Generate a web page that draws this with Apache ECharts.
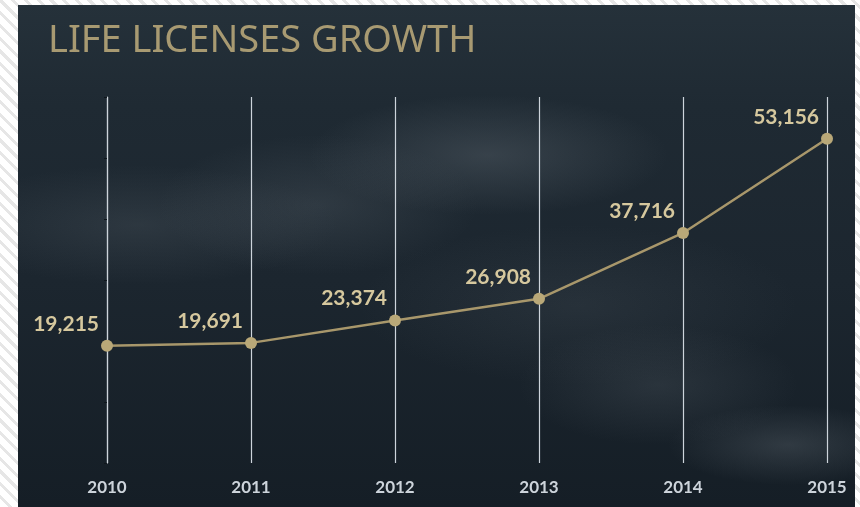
<!DOCTYPE html>
<html>
<head>
<meta charset="utf-8">
<script src="https://cdn.jsdelivr.net/npm/echarts@6/dist/echarts.min.js"></script>
<style>
html,body{margin:0;padding:0;width:860px;height:507px;overflow:hidden;}
body{background:#ffffff repeating-linear-gradient(45deg,#ffffff 0px,#ffffff 6px,#e6e6e6 6px,#e6e6e6 9px);}
#panel{position:absolute;left:18px;top:5px;width:837px;height:502px;
background:
radial-gradient(ellipse 180px 60px at 470px 150px, rgba(120,130,138,0.28), rgba(0,0,0,0)),
radial-gradient(ellipse 160px 70px at 300px 200px, rgba(110,120,128,0.22), rgba(0,0,0,0)),
radial-gradient(ellipse 200px 60px at 120px 220px, rgba(110,120,128,0.20), rgba(0,0,0,0)),
radial-gradient(ellipse 140px 60px at 640px 380px, rgba(110,120,128,0.20), rgba(0,0,0,0)),
radial-gradient(ellipse 120px 40px at 770px 440px, rgba(140,150,158,0.22), rgba(0,0,0,0)),
radial-gradient(ellipse 220px 80px at 560px 300px, rgba(100,110,118,0.16), rgba(0,0,0,0)),
linear-gradient(180deg,#25313a 0%,#1f2a33 20%,#1c262f 55%,#151e26 100%);}
#chart{position:absolute;left:0;top:0;width:860px;height:507px;}
</style>
</head>
<body>
<div id="panel"></div>
<div id="chart"></div>
<script>
var years = ['2010','2011','2012','2013','2014','2015'];
var licenses = [19215, 19691, 23374, 26908, 37716, 53156];
var titleText = 'LIFE LICENSES GROWTH';

var chart = echarts.init(document.getElementById('chart'), null, {renderer:'canvas'});
chart.setOption({
  backgroundColor: 'transparent',
  animation: false,
  title: {
    text: titleText,
    left: 43, top: 17,
    textStyle: {color:'#a89a72', fontFamily:'Noto Sans', fontWeight:'normal', fontSize:38}
  },
  grid: {left:107, right:33, top:97, bottom:44},
  xAxis: {
    type:'category', data: years, boundaryGap:false,
    axisLine:{show:false}, axisTick:{show:false},
    axisLabel:{color:'#cdd4db', fontFamily:'Lato', fontWeight:'bold', fontSize:17, margin:16},
    splitLine:{show:true, showMinLine:true, showMaxLine:true, lineStyle:{color:'#cdd4db', width:1.2}}
  },
  yAxis: {
    type:'value', min:0, max:60000, interval:10000,
    axisLine:{show:true, lineStyle:{color:'#cdd4db', width:1.2}},
    axisTick:{show:true, length:3, lineStyle:{color:'#0e151b'}},
    axisLabel:{show:false},
    splitLine:{show:false}
  },
  series: [{
    type:'line', data: licenses,
    symbol:'circle', symbolSize:12,
    lineStyle:{color:'#a8976b', width:2.5},
    itemStyle:{color:'#b9a878'},
    label:{
      show:true, position:'left', distance:2, offset:[0,-22],
      color:'#d6c89e', fontFamily:'Lato', fontWeight:'bold', fontSize:21,
      formatter:function(p){return p.value.toLocaleString('en-US');}
    }
  }]
});
</script>
</body>
</html>
